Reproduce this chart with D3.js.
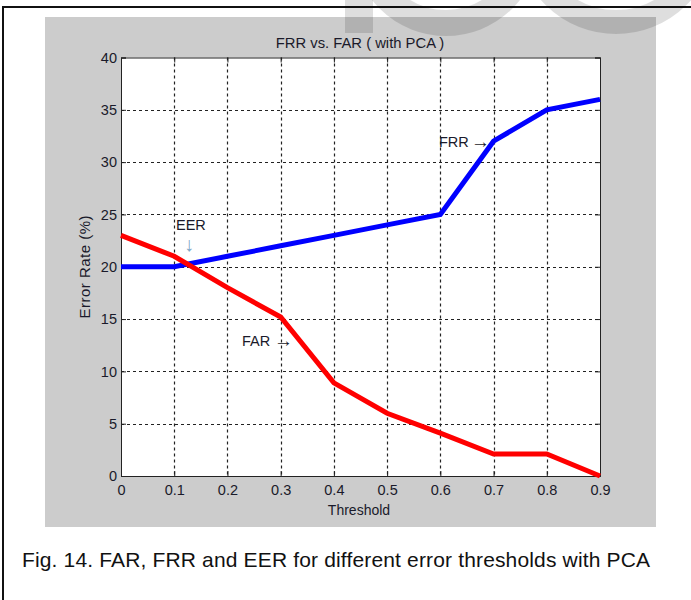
<!DOCTYPE html>
<html>
<head>
<meta charset="utf-8">
<script src="https://cdn.jsdelivr.net/npm/d3@7"></script>
<style>
  body { margin: 0; background: #fff; }
  svg text { font-family: "Liberation Sans", Arial, sans-serif; fill: #1a1a2a; }
</style>
</head>
<body>
<div id="chart"></div>
<script>
// data
var thresholds = [0, 0.1, 0.2, 0.3, 0.4, 0.5, 0.6, 0.7, 0.8, 0.9];
var frr = [20, 20, 21, 22, 23, 24, 25, 32, 35, 36];
var far = [23, 21, 18, 15.2, 8.9, 6, 4.1, 2.1, 2.1, 0];
var xTicks = [0, 0.1, 0.2, 0.3, 0.4, 0.5, 0.6, 0.7, 0.8, 0.9];
var yTicks = [0, 5, 10, 15, 20, 25, 30, 35, 40];

var width = 691, height = 600;

var svg = d3.select("#chart")
    .append("svg")
    .attr("width", width)
    .attr("height", height);

// grey figure panel
svg.append("rect")
    .attr("x", 45).attr("y", 17)
    .attr("width", 611).attr("height", 510)
    .attr("fill", "#cccccc");

// page border
svg.append("path")
    .attr("d", "M3,600 V7 H691")
    .attr("fill", "none")
    .attr("stroke", "#111")
    .attr("stroke-width", 2);

// faint watermark shapes at the top
var wm = svg.append("g").attr("fill", "none").attr("stroke", "#000").attr("stroke-opacity", 0.13);
wm.append("rect").attr("x", 345).attr("y", -5).attr("width", 28).attr("height", 38)
    .attr("fill", "#000").attr("fill-opacity", 0.13).attr("stroke", "none");
wm.append("circle").attr("cx", 446).attr("cy", -58).attr("r", 81).attr("stroke-width", 26);
wm.append("circle").attr("cx", 616).attr("cy", -66).attr("r", 88).attr("stroke-width", 24);

var x0 = 121, x1 = 600, y0 = 476, y1 = 57.5;

var xScale = d3.scaleLinear().domain([0, 0.9]).range([x0, x1]);
var yScale = d3.scaleLinear().domain([0, 40]).range([y0, y1]);

// plot area
svg.append("rect")
    .attr("x", x0).attr("y", y1)
    .attr("width", x1 - x0).attr("height", y0 - y1)
    .attr("fill", "#fff");

// dashed grid
var grid = svg.append("g").attr("stroke", "#222").attr("stroke-width", 1.2).attr("stroke-dasharray", "3,3");
grid.selectAll("line.gx").data(xTicks.slice(1, -1)).enter().append("line")
    .attr("x1", function(d){ return Math.round(xScale(d)) + 0.5; })
    .attr("x2", function(d){ return Math.round(xScale(d)) + 0.5; })
    .attr("y1", y1).attr("y2", y0);
grid.selectAll("line.gy").data(yTicks.slice(1, -1)).enter().append("line")
    .attr("y1", function(d){ return Math.round(yScale(d)) + 0.5; })
    .attr("y2", function(d){ return Math.round(yScale(d)) + 0.5; })
    .attr("x1", x0).attr("x2", x1);

// axes, ticks inside like matlab
var xAxis = d3.axisBottom(xScale).tickValues(xTicks).tickSize(-5).tickPadding(9)
    .tickFormat(function(d){ return d === 0 ? "0" : d3.format(".1f")(d); });
var yAxis = d3.axisLeft(yScale).tickValues(yTicks).tickSize(-5).tickPadding(4);

svg.append("g").attr("class", "xAxis")
    .attr("transform", `translate(0, ${y0})`)
    .call(xAxis);
svg.append("g").attr("class", "yAxis")
    .attr("transform", `translate(${x0}, 0)`)
    .call(yAxis);
svg.append("g")
    .attr("transform", `translate(0, ${y1})`)
    .call(d3.axisTop(xScale).tickValues(xTicks).tickSize(-5).tickFormat(""));
svg.append("g")
    .attr("transform", `translate(${x1}, 0)`)
    .call(d3.axisRight(yScale).tickValues(yTicks).tickSize(-5).tickFormat(""));

svg.selectAll(".domain").attr("stroke", "#222");
svg.selectAll(".tick line").attr("stroke", "#222");
svg.selectAll(".tick text").attr("font-size", 14.5).attr("fill", "#1a1a2a")
    .attr("font-family", "Liberation Sans, Arial, sans-serif");

// lines
var line = d3.line()
    .x(function(d){ return xScale(d[0]); })
    .y(function(d){ return yScale(d[1]); });

svg.append("path")
    .datum(d3.zip(thresholds, frr))
    .attr("d", line)
    .attr("fill", "none")
    .attr("stroke", "#0000ff")
    .attr("stroke-width", 5);

svg.append("path")
    .datum(d3.zip(thresholds, far))
    .attr("d", line)
    .attr("fill", "none")
    .attr("stroke", "#ff0000")
    .attr("stroke-width", 5);

// annotations
svg.append("text").attr("x", 176).attr("y", 230).attr("font-size", 14.5).text("EER");
svg.append("text").attr("x", 184).attr("y", 251).attr("font-size", 20)
    .style("fill", "#7fa7c8").text("\u2193");
svg.append("text").attr("x", 439).attr("y", 147).attr("font-size", 14.5).text("FRR");
svg.append("text").attr("x", 471).attr("y", 148).attr("font-size", 19).text("\u2192");
svg.append("text").attr("x", 242).attr("y", 346).attr("font-size", 14.5).text("FAR");
svg.append("text").attr("x", 274).attr("y", 347).attr("font-size", 19).text("\u2192");

// titles
svg.append("text")
    .attr("x", 360).attr("y", 48)
    .attr("text-anchor", "middle")
    .attr("font-size", 14.8)
    .text("FRR vs. FAR ( with PCA )");

svg.append("text")
    .attr("x", 359).attr("y", 515)
    .attr("text-anchor", "middle")
    .attr("font-size", 14)
    .text("Threshold");

svg.append("text")
    .attr("transform", "translate(90, 267) rotate(-90)")
    .attr("text-anchor", "middle")
    .attr("font-size", 15)
    .attr("textLength", 103)
    .text("Error Rate (%)");

// caption
svg.append("text")
    .attr("x", 22).attr("y", 567)
    .attr("font-size", 21)
    .attr("textLength", 628)
    .style("fill", "#111")
    .text("Fig. 14. FAR, FRR and EER for different error thresholds with PCA");
</script>
</body>
</html>
